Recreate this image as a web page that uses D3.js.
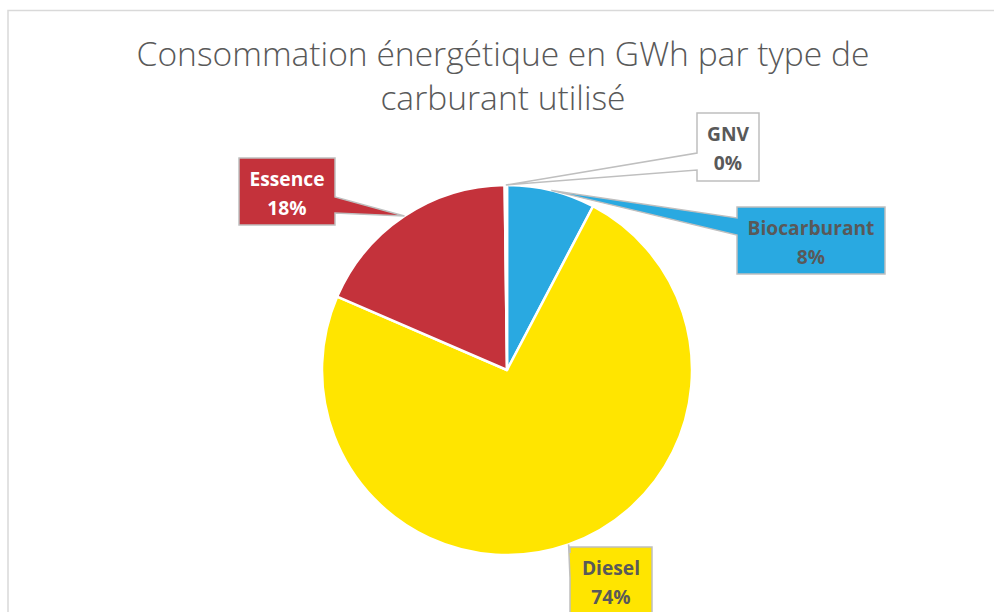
<!DOCTYPE html>
<html><head><meta charset="utf-8">
<script src="https://cdn.jsdelivr.net/npm/d3@7"></script>
<style>body{margin:0;background:#fff}svg{display:block}</style>
</head><body>
<svg id="c" width="994" height="612"></svg>
<script>
const categories = ["Biocarburant", "Diesel", "Essence", "GNV"];
const values = [7.7, 73.8, 18.3, 0.2];
const sliceColors = ["#29a9e1", "#ffe500", "#c4323b", "#a5a5a5"];
const boxFills = ["#29a9e1", "#ffe500", "#c4323b", "#ffffff"];
const labelColors = ["#595959", "#595959", "#ffffff", "#595959"];
const titleLines = ["Consommation énergétique en GWh par type de", "carburant utilisé"];

// layout of label boxes (x, y, w, h, side of wedge, wedge base range)
const boxLayout = {
  "Biocarburant": {x: 737, y: 207, w: 148, h: 67, side: "left", b: [218, 235]},
  "Diesel":       {x: 570, y: 547, w: 82,  h: 70, side: "left", b: [553, 578]},
  "Essence":      {x: 239, y: 158, w: 96,  h: 67, side: "right", b: [197, 213]},
  "GNV":          {x: 697, y: 113, w: 62,  h: 68, side: "left", b: [153, 170]}
};

const svg = d3.select("#c");
svg.append("rect").attr("x", 8).attr("y", 10.5).attr("width", 1100).attr("height", 800)
  .attr("fill", "#fff").attr("stroke", "#d9d9d9").attr("stroke-width", 1.5);

// title (one text element, two lines)
const title = svg.append("text").attr("font-family", "'Open Sans', sans-serif")
  .attr("font-weight", 300).attr("fill", "#595959").attr("text-anchor", "middle")
  .attr("font-size", 30);
const spans = title.selectAll("tspan").data(titleLines).join("tspan")
  .attr("x", 503).attr("y", (d, i) => 66 + i * 43.5).text(d => d);
const w0 = spans.node().getComputedTextLength();
title.attr("font-size", 30 * 733 / w0);

const cx = 507, cy = 370, r = 185;
const total = d3.sum(values);
const data = categories.map((c, i) => ({name: c, value: values[i], i}));
const pie = d3.pie().sort(null).value(d => d.value);
const arcs = pie(data);
const arc = d3.arc().innerRadius(0).outerRadius(r);
const edgeArc = d3.arc().innerRadius(r).outerRadius(r);

const g = svg.append("g").attr("transform", `translate(${cx},${cy})`);
g.selectAll("path").data(arcs).join("path")
  .attr("d", arc).attr("fill", d => sliceColors[d.data.i])
  .attr("stroke", "#fff").attr("stroke-width", 2.5).attr("stroke-linejoin", "round");

// callout labels
function calloutPath(L, tip) {
  const x0 = L.x, y0 = L.y, x1 = L.x + L.w, y1 = L.y + L.h;
  const [b0, b1] = L.b;
  let pts;
  if (L.side === "left") {
    pts = [[x0, y0], [x1, y0], [x1, y1], [x0, y1], [x0, b1], tip, [x0, b0]];
  } else {
    pts = [[x0, y0], [x1, y0], [x1, b0], tip, [x1, b1], [x1, y1], [x0, y1]];
  }
  return "M" + pts.map(p => p.join(",")).join("L") + "Z";
}

const lab = svg.append("g").attr("font-family", "'Open Sans', sans-serif").attr("font-weight", 700);
// measure label font so that "Biocarburant" matches the reference width
const probe = lab.append("text").attr("font-size", 20).text(categories[0]);
const lfs = 20 * 127 / probe.node().getComputedTextLength();
probe.remove();

arcs.forEach(d => {
  const L = boxLayout[d.data.name];
  const c = edgeArc.centroid(d);
  const tip = [cx + c[0], cy + c[1]];
  lab.append("path").attr("d", calloutPath(L, tip))
    .attr("fill", boxFills[d.data.i]).attr("stroke", "#bfbfbf").attr("stroke-width", 1.5)
    .attr("stroke-linejoin", "miter");
  const t = lab.append("text").attr("text-anchor", "middle").attr("font-size", lfs)
    .attr("fill", labelColors[d.data.i]);
  t.append("tspan").attr("x", L.x + L.w / 2).attr("y", L.y + 28).text(d.data.name);
  t.append("tspan").attr("x", L.x + L.w / 2).attr("y", L.y + 57)
    .text(Math.round(d.data.value / total * 100) + "%");
});
</script>
</body></html>
